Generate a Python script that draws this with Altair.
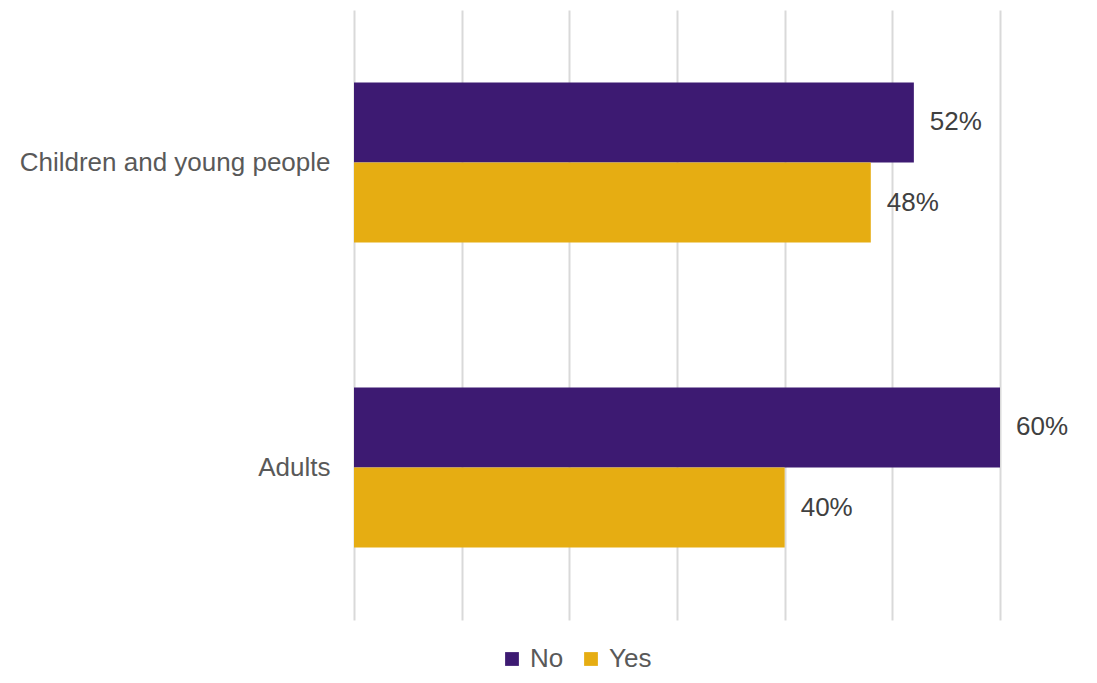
import altair as alt
import pandas as pd

categories = ["Children and young people", "Adults"]
series = ["No", "Yes"]
no_values = [52, 60]
yes_values = [48, 40]
colors = ["#3D1A72", "#E6AD12"]

rows = []
for i, c in enumerate(categories):
    rows.append({"category": c, "series": "No", "value": no_values[i]})
    rows.append({"category": c, "series": "Yes", "value": yes_values[i]})
df = pd.DataFrame(rows)
df["label"] = df["value"].astype(str) + "%"

FS = 26

y_enc = alt.Y("category:N", sort=categories, title=None,
              scale=alt.Scale(paddingInner=0.475, paddingOuter=0.2375),
              axis=alt.Axis(labelFont="Liberation Sans", labelFontSize=FS, labelColor="#595959",
                            ticks=False, domain=False, labelPadding=24, grid=False, labelLimit=400))
x_enc = alt.X("value:Q", title=None, scale=alt.Scale(domain=[0, 60], nice=False),
              axis=alt.Axis(values=[0, 10, 20, 30, 40, 50, 60], labels=False, ticks=False, domain=False,
                            grid=True, gridColor="#D9D9D9", gridWidth=2))
yoff = alt.YOffset("series:N", sort=series, scale=alt.Scale(paddingInner=0, paddingOuter=0))

bars = alt.Chart(df).mark_bar(size=80).encode(
    y=y_enc, x=x_enc, yOffset=yoff,
    color=alt.Color("series:N", sort=series, title=None,
                    scale=alt.Scale(domain=series, range=colors),
                    legend=alt.Legend(orient="none", legendX=145, legendY=636, direction="horizontal",
                                      symbolType="square", symbolSize=190, symbolStrokeWidth=0,
                                      labelFont="Liberation Sans", labelFontSize=FS, labelColor="#595959",
                                      columnPadding=14, labelOffset=5, padding=0)),
)

text = alt.Chart(df).mark_text(align="left", baseline="middle", dx=16, font="Liberation Sans",
                               fontSize=FS, color="#404040").encode(
    y=alt.Y("category:N", sort=categories), x=alt.X("value:Q"), yOffset=yoff, text="label:N"
)

chart = (bars + text).properties(
    width=646, height=610,
    background="white",
    autosize=alt.AutoSizeParams(type="none"),
    padding={"left": 346, "top": 2, "right": 89, "bottom": 55},
).configure_view(stroke=None, strokeWidth=0)

chart.save("out.html", embed_options={"renderer": "svg", "actions": False})
